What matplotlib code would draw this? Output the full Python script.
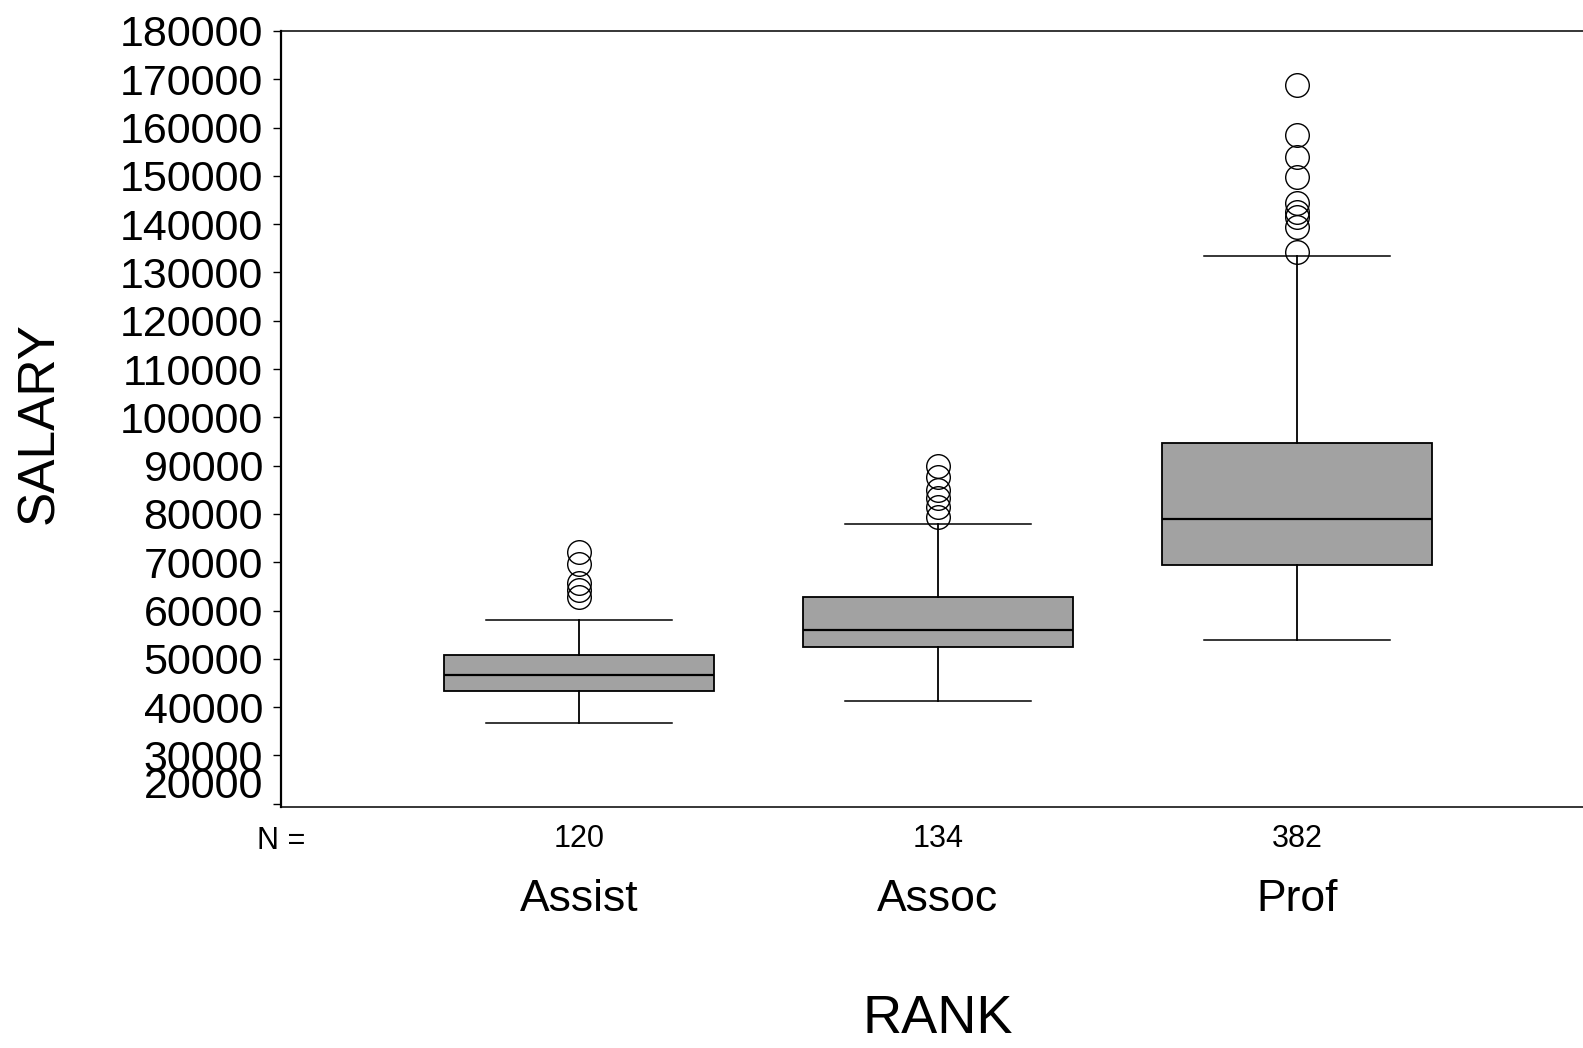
import matplotlib
matplotlib.use("Agg")
import matplotlib.pyplot as plt
import matplotlib.transforms as mtransforms

plt.rcParams['font.family'] = ['Liberation Sans', 'DejaVu Sans']

# Salary by academic rank: five-number summaries and outliers
ranks = ["Assist", "Assoc", "Prof"]
counts = [120, 134, 382]
q1 = [43440, 52530, 69440]
medians = [46600, 56000, 78960]
q3 = [50800, 62750, 94760]
whisker_low = [36730, 41350, 53910]
whisker_high = [58100, 77870, 133500]
outliers = [
    [72130, 69650, 65710, 64270, 62820],
    [89940, 87660, 84970, 83310, 81450, 79380],
    [168820, 158470, 153980, 149830, 144390, 142590, 141550, 139480, 134200],
]
y_ticks = list(range(20000, 180001, 10000))

fig = plt.figure(figsize=(15.83, 10.48), dpi=100)
ax = fig.add_axes([0.1775, 0.23, 0.830, 0.7405])

stats = []
for i in range(len(ranks)):
    stats.append(dict(med=medians[i], q1=q1[i], q3=q3[i],
                      whislo=whisker_low[i], whishi=whisker_high[i],
                      fliers=outliers[i], label=str(counts[i])))

positions = [1, 2, 3]
ax.bxp(stats, positions=positions, widths=0.75, capwidths=0.52,
       patch_artist=True,
       boxprops=dict(facecolor="#a2a2a2", edgecolor="black", linewidth=1.3),
       medianprops=dict(color="black", linewidth=1.6),
       whiskerprops=dict(color="black", linewidth=1.3),
       capprops=dict(color="black", linewidth=1.1),
       flierprops=dict(marker="o", markersize=17, markerfacecolor="none",
                       markeredgecolor="black", markeredgewidth=1.0))

ax.set_xlim(0.17, 3.83)
ax.set_ylim(19340, 180000)

# axes frame
ax.spines["right"].set_visible(False)
ax.spines["left"].set_linewidth(1.6)
ax.spines["bottom"].set_linewidth(1.1)
ax.spines["top"].set_linewidth(1.1)

ax.set_yticks(y_ticks)
ax.set_yticklabels([str(v) for v in y_ticks])
ax.tick_params(axis="y", direction="out", length=6, width=1.0, pad=7,
               labelsize=31)
ax.set_xticks(positions)
ax.set_xticklabels([str(c) for c in counts])
ax.tick_params(axis="x", length=0, pad=12.5, labelsize=22)

# the lowest label sits raised above its tick
lowest = ax.get_yticklabels()[0]
lowest.set_transform(lowest.get_transform() +
                     mtransforms.ScaledTranslation(0, 0.21, fig.dpi_scale_trans))

# "N =" caption and category names under the counts
ax.text(0.0, -0.0435, "N =", transform=ax.transAxes, ha="center",
        va="center", fontsize=22)
blend = mtransforms.blended_transform_factory(ax.transData, ax.transAxes)
for pos, name in zip(positions, ranks):
    ax.text(pos, -0.119, name, transform=blend, ha="center", va="center",
            fontsize=32)

ax.text(0.5, -0.273, "RANK", transform=ax.transAxes, ha="center",
        va="center", fontsize=39)
ax.text(-0.1834, 0.495, "SALARY", transform=ax.transAxes, ha="center",
        va="center", rotation=90, fontsize=37)

fig.savefig("out.png", dpi=100, facecolor="white")
